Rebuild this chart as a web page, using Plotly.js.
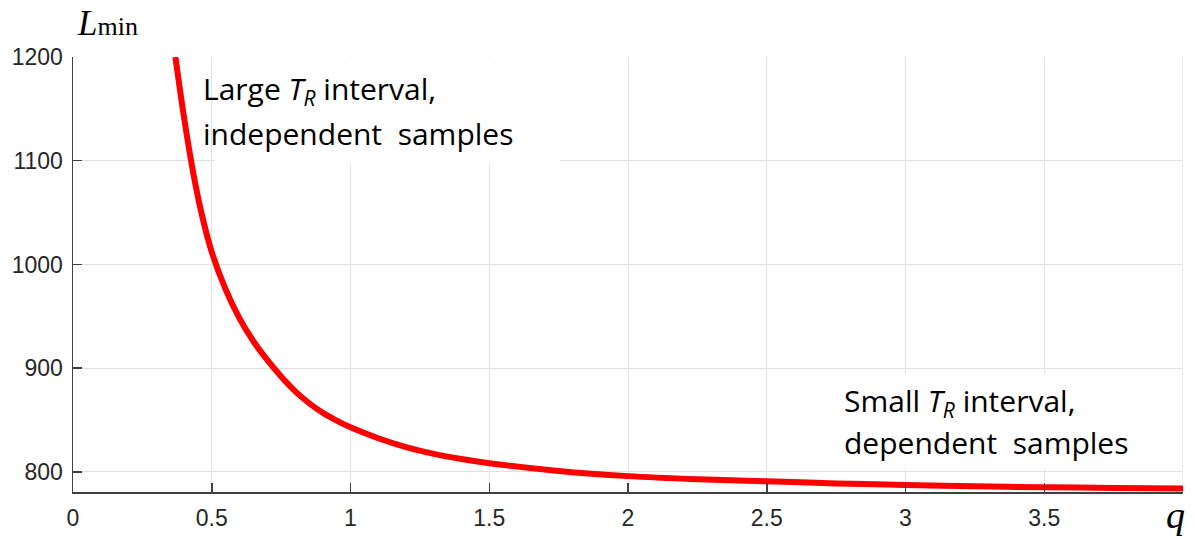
<!DOCTYPE html>
<html>
<head>
<meta charset="utf-8">
<script src="https://cdn.plot.ly/plotly-3.0.1.min.js"></script>
<style>html,body{margin:0;padding:0;background:#fff;}#chart{width:1195px;height:537px;}</style>
</head>
<body>
<div id="chart"></div>
<script>
// Data
const q    = [0.369, 0.40, 0.43, 0.46, 0.50, 0.55, 0.60, 0.65, 0.70, 0.75, 0.80, 0.85, 0.90, 0.95, 1.0, 1.1, 1.2, 1.3, 1.4, 1.5, 1.75, 2.0, 2.25, 2.5, 2.75, 3.0, 3.25, 3.5, 3.75, 4.0];
const Lmin = [1200, 1142, 1093, 1053, 1012, 976, 948, 926, 908, 892, 878, 866.5, 857, 849.5, 843, 832.5, 824, 817.5, 812.5, 808.5, 801, 796, 793, 791, 789, 787.5, 786.2, 785.3, 784.6, 784];
const xTickVals = [0, 0.5, 1, 1.5, 2, 2.5, 3, 3.5];
const xTickText = ['0', '0.5', '1', '1.5', '2', '2.5', '3', '3.5'];
const yTickVals = [800, 900, 1000, 1100, 1200];
const yTickText = ['800', '900', '1000', '1100', '1200'];
const noteLarge = ['Large <i>T</i><sub><i>R</i></sub> interval,', 'independent&nbsp; samples'];
const noteSmall = ['Small <i>T</i><sub><i>R</i></sub> interval,', 'dependent&nbsp; samples'];

const W = 1195, H = 537;
const M = {l: 72.5, r: 12, t: 57.3, b: 45.3};
const pw = W - M.l - M.r, ph = H - M.t - M.b;
const px = x => (x - M.l) / pw;
const py = y => (H - M.b - y) / ph;

const trace = {
  x: q, y: Lmin, type: 'scatter', mode: 'lines',
  line: {color: '#ff0000', width: 6, shape: 'spline', smoothing: 1.0},
  hoverinfo: 'skip'
};

const noteFont = {family: 'Open Sans, sans-serif', size: 30, color: '#000'};
const tickFont = {family: 'Liberation Sans, Arial, sans-serif', size: 23, color: '#262626'};

function note(text, xPix, topPix) {
  return {text: text, xref: 'paper', yref: 'paper', x: px(xPix), y: py(topPix),
    xanchor: 'left', yanchor: 'top', align: 'left',
    showarrow: false, borderpad: 0, font: noteFont};
}

const layout = {
  width: W, height: H,
  margin: M,
  paper_bgcolor: '#fff', plot_bgcolor: '#fff',
  showlegend: false,
  xaxis: {
    range: [0, 4], tickvals: xTickVals, ticktext: xTickText,
    ticks: 'inside', ticklen: 9, tickwidth: 1.5, tickcolor: '#404040',
    showline: true, linecolor: '#404040', linewidth: 1.5,
    showgrid: true, gridcolor: '#e0e0e0', gridwidth: 1,
    zeroline: false, mirror: false,
    tickfont: tickFont, ticklabelstandoff: 5
  },
  yaxis: {
    range: [780.7, 1200], tickvals: yTickVals, ticktext: yTickText,
    ticks: 'inside', ticklen: 9, tickwidth: 1.5, tickcolor: '#404040',
    showline: true, linecolor: '#404040', linewidth: 1.5,
    showgrid: true, gridcolor: '#e0e0e0', gridwidth: 1,
    zeroline: false, mirror: false,
    tickfont: tickFont, ticklabelstandoff: 4
  },
  shapes: [
    {type: 'line', xref: 'x', yref: 'paper', x0: 4, x1: 4, y0: 0, y1: 1,
     line: {color: '#e0e0e0', width: 1}, layer: 'below'},
    {type: 'rect', xref: 'paper', yref: 'paper', x0: px(214), x1: px(560), y0: py(163), y1: py(58),
     fillcolor: '#ffffff', line: {width: 0}, layer: 'above'},
    {type: 'rect', xref: 'paper', yref: 'paper', x0: px(846), x1: px(1181), y0: py(468), y1: py(373),
     fillcolor: '#ffffff', line: {width: 0}, layer: 'above'}
  ],
  annotations: [
    note(noteLarge[0], 202, 67),
    note(noteLarge[1], 202, 112),
    note(noteSmall[0], 843, 379),
    note(noteSmall[1], 843, 421),
    {text: '<i>L</i><span style="font-size:26px">min</span>', xref: 'paper', yref: 'paper',
     x: px(75), y: py(24), xanchor: 'left', yanchor: 'middle', showarrow: false,
     font: {family: 'Liberation Serif, DejaVu Serif, serif', size: 35, color: '#000'}},
    {text: '<i>q</i>', xref: 'paper', yref: 'paper',
     x: px(1175), y: py(515), xanchor: 'center', yanchor: 'middle', showarrow: false,
     font: {family: 'Liberation Serif, DejaVu Serif, serif', size: 38, color: '#000'}}
  ]
};

Plotly.newPlot('chart', [trace], layout, {staticPlot: true, displayModeBar: false});
</script>
</body>
</html>
